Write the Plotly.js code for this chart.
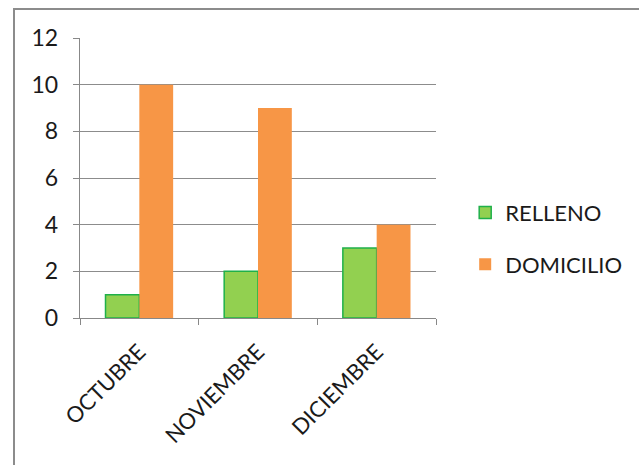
<!DOCTYPE html>
<html><head><meta charset="utf-8">
<script src="https://cdn.plot.ly/plotly-3.0.1.min.js"></script>
<style>
html,body{margin:0;padding:0;background:#fff;}
#wrap{position:absolute;left:0;top:0;width:639px;height:465px;overflow:hidden;}
#box{position:absolute;left:13px;top:8px;width:700px;height:600px;border-left:2px solid #8c8c8c;border-top:2px solid #8c8c8c;}
#chart{position:absolute;left:0;top:0;width:639px;height:465px;}
</style></head><body>
<div id="wrap"><div id="box"></div><div id="chart"></div></div>
<script>
const categories = ["OCTUBRE", "NOVIEMBRE", "DICIEMBRE"];
const relleno = [1, 2, 3];
const domicilio = [10, 9, 4];
const seriesNames = ["RELLENO", "DOMICILIO"];
const yTicks = [0, 2, 4, 6, 8, 10, 12];

const font = "Lato, 'Open Sans', sans-serif";
const traces = [
  {type:"bar", x:categories, y:relleno, name:seriesNames[0], legendgroup:"a",
   marker:{color:"#92d050", line:{color:"#1fb04a", width:1.5}}},
  {type:"bar", x:categories, y:domicilio, name:seriesNames[1], legendgroup:"b",
   marker:{color:"#f79646", line:{color:"#f79646", width:0}}}
];
const layout = {
  width:639, height:465,
  margin:{l:80, r:203, t:38, b:147, pad:0},
  paper_bgcolor:"rgba(0,0,0,0)", plot_bgcolor:"rgba(0,0,0,0)",
  bargap:0.43, bargroupgap:0,
  font:{family:font, size:22, color:"#1a1a1a"},
  xaxis:{type:"category", tickangle:-45, tickson:"boundaries", ticks:"outside", ticklen:6,
         tickcolor:"#888", showline:true, linecolor:"#888", linewidth:1.3, ticklabelstandoff:11,
         showgrid:false, tickfont:{family:font, size:22, color:"#1a1a1a"}},
  yaxis:{range:[0,12], tickvals:yTicks, ticks:"outside", ticklen:6, tickcolor:"#888",
         showline:true, linecolor:"#888", linewidth:1.3, gridcolor:"#8c8c8c", gridwidth:1,
         ticklabelstandoff:10,
         zeroline:false, tickfont:{family:font, size:23, color:"#1a1a1a"}},
  legend:{x:1.082, y:0.283, xanchor:"left", yanchor:"middle", tracegroupgap:20,
          itemwidth:30,
          font:{family:font, size:22, color:"#1a1a1a"}, bgcolor:"rgba(0,0,0,0)"},
  showlegend:true
};
Plotly.newPlot("chart", traces, layout, {displayModeBar:false, staticPlot:true});
</script>
</body></html>
